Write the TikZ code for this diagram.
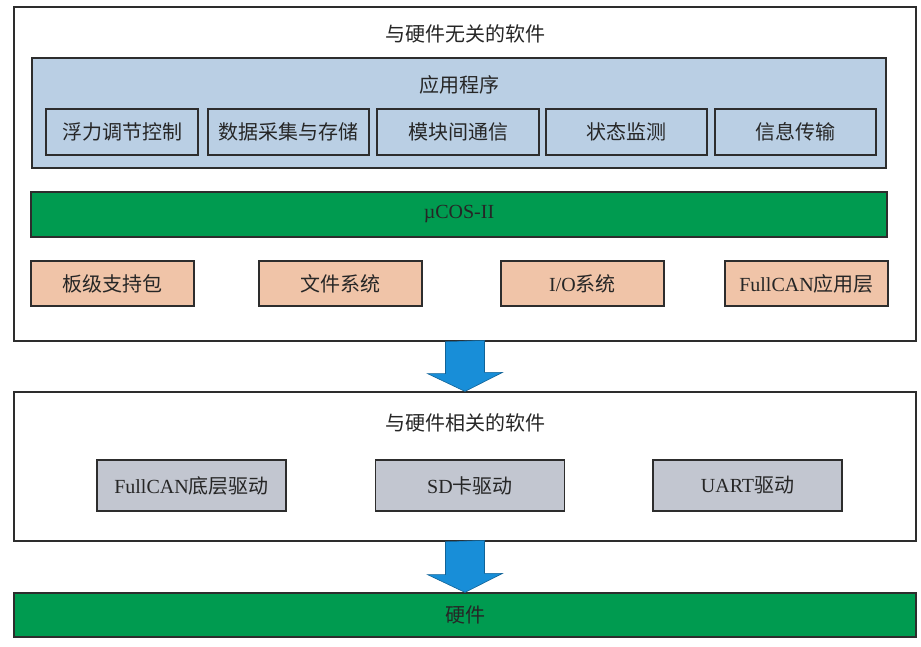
\documentclass[tikz,border=0pt]{standalone}
\usepackage{fontspec}
\setmainfont{Liberation Serif}
\newfontfamily\cjk{Noto Sans CJK SC}
\definecolor{appblue}{RGB}{186,207,228}
\definecolor{osgreen}{RGB}{0,155,80}
\definecolor{bspbrown}{RGB}{240,196,168}
\definecolor{drvgray}{RGB}{194,198,208}
\definecolor{flowblue}{RGB}{24,142,216}
\definecolor{edge}{RGB}{45,45,45}
\tikzset{>=latex}
\tikzset{
  layer/.style={draw=edge,line width=1.2pt,fill=white},
  blk/.style={draw=edge,line width=1.2pt,inner sep=0pt,text=black!85,font=\fontsize{20}{20}\selectfont},
  ttl/.style={inner sep=0pt,text=black!85,font=\fontsize{20}{20}\selectfont},
  bigarrow/.style={fill=flowblue,draw=flowblue!70!black,line width=0.6pt,line join=miter},
}

\begin{document}
\begin{tikzpicture}[x=1pt,y=-1pt]
  \useasboundingbox[fill=white] (0,0) rectangle (921,646);
  % hardware independent software
  \node[layer,minimum width=902,minimum height=334] (free) at (465,174) {};
  \node[ttl] (freettl) at (465,34) {\cjk 与硬件无关的软件};
  \node[blk,fill=appblue,minimum width=854,minimum height=110] (app) at (459,113) {};
  \node[ttl] (appttl) at (459,85) {\cjk 应用程序};
  \foreach \n/\x/\w/\t in {1/122/152/浮力调节控制,2/288.5/161/数据采集与存储,3/458/162/模块间通信,4/626.5/161/状态监测,5/795.5/161/信息传输}{ % application tasks
    \node[blk,fill=appblue,minimum width=\w,minimum height=46] (task\n) at (\x,132) {\cjk \t};
  }
  \node[blk,fill=osgreen,minimum width=856,minimum height=45] (os) at (459,214.5) {µCOS-II};
  \foreach \n/\x/\t in {1/112.5/{{\cjk 板级支持包}},2/340.5/{{\cjk 文件系统}},3/582.5/{I/O{\cjk 系统}},4/806.5/{FullCAN{\cjk 应用层}}}{ % services
    \node[blk,fill=bspbrown,minimum width=163,minimum height=45] (srv\n) at (\x,283.5) {\t};
  }
  % hardware dependent software
  \node[layer,minimum width=902,minimum height=149] (dep) at (465,466.5) {};
  \node[ttl] (depttl) at (465,423) {\cjk 与硬件相关的软件};
  \foreach \n/\x/\t in {1/191.5/{FullCAN{\cjk 底层驱动}},2/470/{SD{\cjk 卡驱动}},3/747.5/{UART{\cjk 驱动}}}{ % drivers
    \node[blk,fill=drvgray,minimum width=189,minimum height=51] (drv\n) at (\x,485.5) {\t};
  }
  % hardware
  \node[blk,fill=osgreen,minimum width=902,minimum height=44] (hw) at (465,615) {\cjk 硬件};
  % flow arrows
  \draw[bigarrow] ([xshift=-19.5pt]free.south) -- ++(0,32) -- ++(-18,0) -- (dep.north)
    -- ++(37.5,-19) -- ++(-18,0) -- ++(0,-32) -- cycle;
  \draw[bigarrow] ([xshift=-19.5pt]dep.south) -- ++(0,33) -- ++(-18,0) -- (hw.north)
    -- ++(37.5,-19) -- ++(-18,0) -- ++(0,-33) -- cycle;
\end{tikzpicture}
\end{document}
